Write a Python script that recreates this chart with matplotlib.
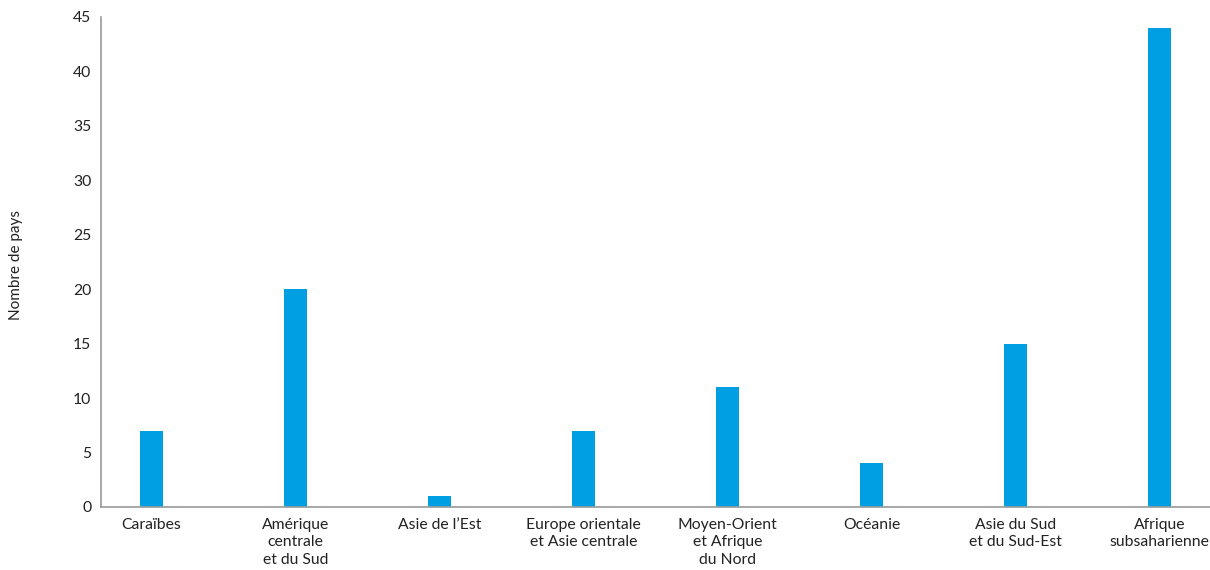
import numpy as np
import matplotlib.pyplot as plt

# regions and number of countries per region
regions = ["Caraïbes", "Amérique\ncentrale\net du Sud", "Asie de l\u2019Est",
           "Europe orientale\net Asie centrale", "Moyen-Orient\net Afrique\ndu Nord",
           "Océanie", "Asie du Sud\net du Sud-Est", "Afrique\nsubsaharienne"]
nb_pays = [7, 20, 1, 7, 11, 4, 15, 44]
yticks = list(range(0, 50, 5))

plt.rcParams['font.family'] = ['Lato', 'DejaVu Sans']

fig = plt.figure(figsize=(12.1, 5.7), dpi=100)
ax = fig.add_axes([101 / 1210, 63 / 570, 1109 / 1210, 490 / 570])

x = np.arange(len(regions))
ax.bar(x, nb_pays, width=0.16, color='#009FE3')

ax.set_xlim(-0.35, len(regions) - 0.65)
ax.set_ylim(0, 45)
ax.set_yticks(yticks)
ax.set_xticks(x)
ax.set_xticklabels(regions, fontsize=11.3, color='#222222', linespacing=1.3)
ax.tick_params(axis='y', length=0, pad=7, labelsize=11.3, labelcolor='#222222')
ax.tick_params(axis='x', length=0, pad=8)

for s in ['top', 'right']:
    ax.spines[s].set_visible(False)
for s in ['left', 'bottom']:
    ax.spines[s].set_color('#999999')
    ax.spines[s].set_linewidth(1.2)

fig.text(16 / 1210, 1 - 265 / 570, "Nombre de pays", rotation=90,
         ha='center', va='center', fontsize=11, color='#222222')

plt.savefig('out.png', dpi=100)
